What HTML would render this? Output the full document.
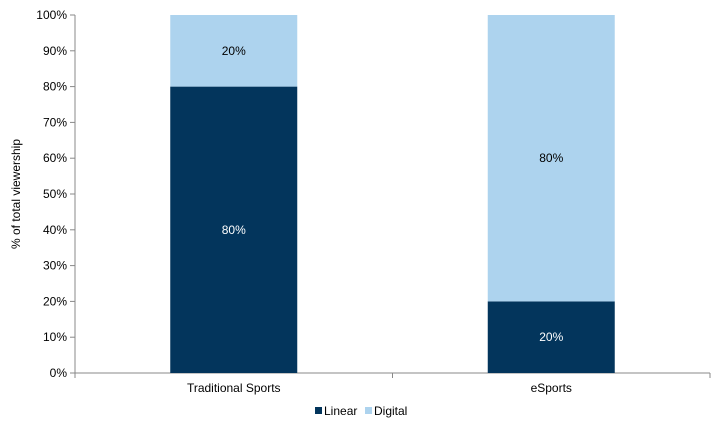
<!DOCTYPE html>
<html><head><meta charset="utf-8"><style>
body{margin:0;background:#fff;font-family:"Liberation Sans",Arial,sans-serif;}
svg text{font-family:"Liberation Sans",Arial,sans-serif;font-size:12px;fill:#000;}
</style></head><body>
<svg id="chart" width="720" height="432">
<g id="axes"></g><g id="bars"></g>
<text transform="translate(20,194) rotate(-90)" text-anchor="middle">% of total viewership</text>
<g>
<rect x="315" y="407" width="7" height="7" fill="#03355C"/>
<text x="324" y="415">Linear</text>
<rect x="365" y="407" width="7" height="7" fill="#ADD3EE"/>
<text x="374" y="415">Digital</text>
</g>
</svg>
<script>
const categories=["Traditional Sports","eSports"];
const linear=[80,20];
const digital=[20,80];
const yTicks=[0,10,20,30,40,50,60,70,80,90,100];
const NS="http://www.w3.org/2000/svg";
const x0=75,x1=710,y0=373,y1=15;
const ys=v=>y0-(v/100)*(y0-y1);
const bw=(x1-x0)/categories.length;
const xc=i=>x0+bw*(i+0.5);
const barW=127;
function mk(t,a,p){const e=document.createElementNS(NS,t);for(const k in a)e.setAttribute(k,a[k]);p.appendChild(e);return e;}
const ax=document.getElementById('axes'),bars=document.getElementById('bars');
const yl=mk('line',{x1:x0,y1:y1,x2:x0,y2:y0,stroke:'#888'},ax);


yTicks.forEach(v=>{
 const t=mk('line',{x1:x0-5,x2:x0,y1:ys(v),y2:ys(v),stroke:'#888'},ax);
 
 
 const l=mk('text',{x:x0-8,y:ys(v)+4,'text-anchor':'end'},ax);
 
 
 l.textContent=v+'%';
});
const xl=mk('line',{x1:x0,y1:y0,x2:x1,y2:y0,stroke:'#888'},ax);


for(let i=0;i<=categories.length;i++){
 const t=mk('line',{x1:x0+bw*i,x2:x0+bw*i,y1:y0,y2:y0+5,stroke:'#888'},ax);
 
 
}
categories.forEach((c,i)=>{
 const l=mk('text',{x:xc(i),y:y0+19,'text-anchor':'middle'},ax);
 
 
 l.textContent=c;
 const r1=mk('rect',{x:xc(i)-barW/2,y:ys(linear[i]),width:barW,height:y0-ys(linear[i]),fill:'#03355C'},bars);
 
 
 const r2=mk('rect',{x:xc(i)-barW/2,y:ys(linear[i]+digital[i]),width:barW,height:ys(linear[i])-ys(linear[i]+digital[i]),fill:'#ADD3EE'},bars);
 
 
 const t1=mk('text',{x:xc(i),y:(y0+ys(linear[i]))/2+4,'text-anchor':'middle',style:'fill:#fff'},bars);
 
 
 t1.textContent=linear[i]+'%';
 const t2=mk('text',{x:xc(i),y:(ys(linear[i])+ys(linear[i]+digital[i]))/2+4,'text-anchor':'middle'},bars);
 
 
 t2.textContent=digital[i]+'%';
});
</script>
</body></html>
